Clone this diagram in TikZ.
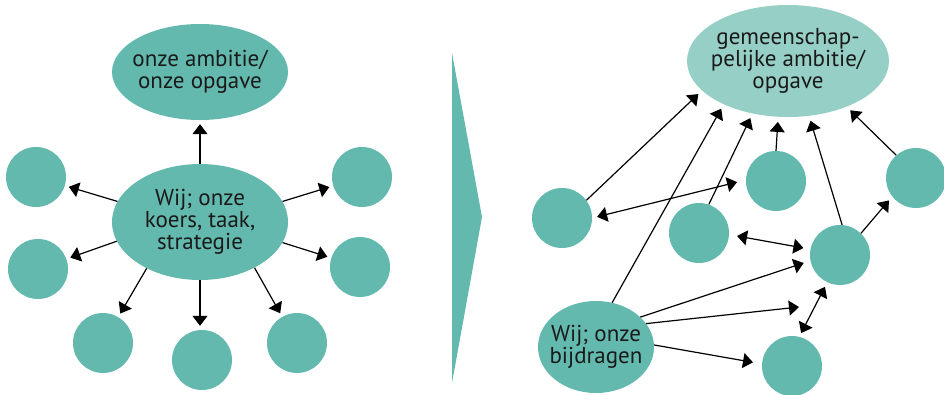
\documentclass[tikz,border=0pt]{standalone}
\usepackage{fontspec}
\setmainfont{PT Sans}
\usetikzlibrary{arrows.meta,shapes.geometric}
\definecolor{tealA}{HTML}{64B9AE}
\definecolor{tealB}{HTML}{96CFC6}
\definecolor{ink}{HTML}{1A1A1A}
\begin{document}
\begin{tikzpicture}[x=1pt,y=-1pt,
  bub/.style={circle,fill=tealA,minimum size=60pt,inner sep=0pt},
  ell/.style={ellipse,fill=tealA,inner sep=-25pt,align=center,text=ink,
    font=\fontsize{23}{22}\selectfont},
  arr/.style={-{Triangle[width=15pt,length=10pt]},line width=1.2pt,black,shorten >=4pt},
  darr/.style={{Triangle[width=15pt,length=10pt]}-{Triangle[width=15pt,length=10pt]},line width=1.2pt,black}]
\useasboundingbox (0,0) rectangle (944,394);
% separator
\fill[tealA] (452,53) -- (482,217) -- (452,383) -- cycle;
% left diagram
\node[ell,minimum width=176pt,minimum height=96pt] (top) at (200,72) {onze ambitie/\\onze opgave};
\node[ell,minimum width=176pt,minimum height=116pt] (c0) at (200,222) {Wij; onze\\koers, taak,\\strategie};
\node[bub] (lt) at (36,177) {};
\node[bub] (lm) at (38,269) {};
\node[bub] (bl) at (103,343) {};
\node[bub] (bc) at (202,360) {};
\node[bub] (br) at (297,343) {};
\node[bub] (rt) at (362,177) {};
\node[bub] (rm) at (360,267) {};
\draw[arr] (c0) -- (top);
\draw[arr] (c0.166) -- (lt);
\draw[arr] (c0.193) -- (lm);
\draw[arr] (c0.221) -- (bl);
\draw[arr] (c0.south) -- (c0.south |- bc.north);
\draw[arr] (c0.320) -- (br);
\draw[arr] (c0.14) -- (rt);
\draw[arr] (c0.346) -- (rm);
% right diagram
\node[ell,fill=tealB,minimum width=202pt,minimum height=112pt] (T) at (788,61) {gemeenschap-\\pelijke ambitie/\\opgave};
\node[ell,minimum width=116pt,minimum height=92pt] (W) at (596,347) {Wij; onze\\bijdragen};
\node[bub] (A) at (562,218) {};
\node[bub] (B) at (699,233) {};
\node[bub] (C) at (776,181) {};
\node[bub] (D) at (916,178) {};
\node[bub] (E) at (840,255) {};
\node[bub] (F) at (792,366) {};
\coordinate (free) at (799,307);
\draw[arr,shorten >=5pt] (A.36) -- (T.199);
\draw[arr,shorten >=5pt] (W.70) -- (T.214);
\draw[arr,shorten >=5pt] (B.71) -- (T.236);
\draw[arr,shorten >=5pt] (C.north) -- (T.260);
\draw[arr,shorten >=5pt] (E.86) -- (T.291);
\draw[arr,shorten >=5pt] (D.131) -- (T.322);
\draw[darr,shorten <=5pt,shorten >=9pt] (A.0) -- (C.178);
\draw[darr,shorten <=8pt,shorten >=7pt] (B.357) -- (E.169);
\draw[arr,shorten >=5pt] (E.46) -- (D.218);
\draw[arr,shorten >=7pt] (W.34) -- (E.191);
\draw[arr,shorten >=0pt] (W.25) -- (free);
\draw[darr,shorten <=4pt,shorten >=5pt] (F.76) -- (E.245);
\draw[arr,shorten >=9pt] (W.2) -- (F.176);
\end{tikzpicture}
\end{document}
